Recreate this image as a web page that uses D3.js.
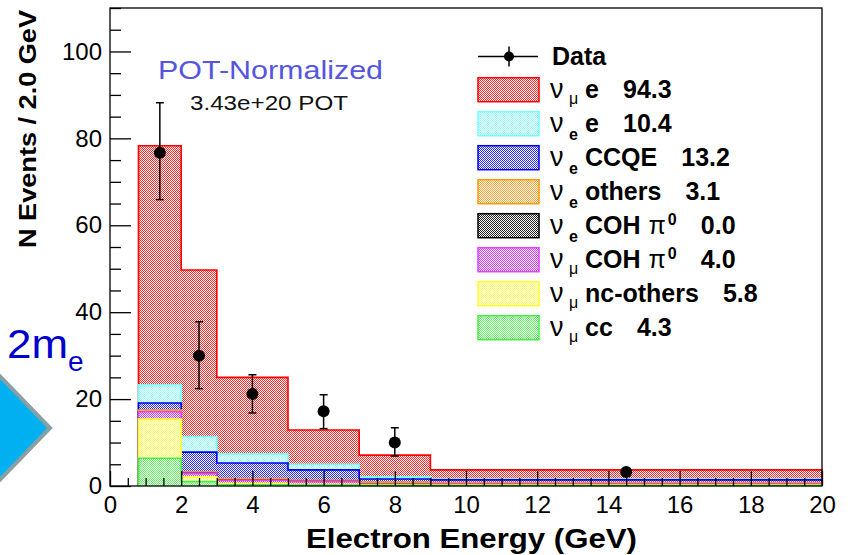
<!DOCTYPE html>
<html><head><meta charset="utf-8">
<script src="https://cdn.jsdelivr.net/npm/d3@7"></script>
<style>
body{margin:0;background:#fff}
svg{display:block}
text{font-family:"Liberation Sans",Arial,Helvetica,sans-serif}
</style>
</head><body>
<svg id="c" width="848" height="555"></svg>
<script>
// ---------------- DATA ----------------
const binEdges = [0.8, 2, 3, 5, 7, 9, 20];            // GeV
// per-bin heights (events / 2.0 GeV), stack order bottom -> top
const numuCC       = [6.4, 1.0, 0.3, 0.2, 0.1, 0.1];
const numuNCOthers = [9.0, 1.1, 0.3, 0.2, 0.1, 0.1];
const numuCOHpi0   = [1.7, 0.8, 0.7, 0.6, 0.2, 0.3];
const nueCOHpi0    = [0.0, 0.0, 0.0, 0.0, 0.0, 0.0];
const nueOthers    = [0.4, 0.3, 0.4, 0.3, 0.5, 0.35];
const nueCCQE      = [1.6, 4.6, 3.6, 2.4, 0.7, 0.55];
const nueE         = [4.2, 3.6, 2.1, 1.3, 0.5, 0.2];
const numuE        = [55.0, 38.3, 17.6, 7.9, 5.0, 2.1];

const dataX    = [1.4, 2.5, 4.0, 6.0, 8.0, 14.5];
const dataY    = [76.7, 30.0, 21.2, 17.2, 10.0, 3.2];
const dataLow  = [65.9, 22.4, 16.8, 13.2, 6.9, 2.3];
const dataHigh = [88.2, 37.8, 25.6, 21.0, 13.4, 4.1];

const xTicks = [0, 2, 4, 6, 8, 10, 12, 14, 16, 18, 20];
const yTicks = [0, 20, 40, 60, 80, 100];

// legend (top -> bottom)
const legendNu    = ["μ", "e", "e", "e", "e", "μ", "μ", "μ"];
const legendName  = ["e", "e", "CCQE", "others", "COH", "COH", "nc-others", "cc"];
const legendPi0   = [false, false, false, false, true, true, false, false];
const legendTotal = ["94.3", "10.4", "13.2", "3.1", "0.0", "4.0", "5.8", "4.3"];

// ---------------- STYLE ----------------
const keys   = ["numuCC","numuNCOthers","numuCOHpi0","nueCOHpi0","nueOthers","nueCCQE","nueE","numuE"];
const series = [numuCC, numuNCOthers, numuCOHpi0, nueCOHpi0, nueOthers, nueCCQE, nueE, numuE];
const dotCol = ["#5cf55c","#ffff55","#d535f5","#202020","#ffa030","#2a2af5","#90ffff","#f52a2a"];
const lineCol= ["#44ee44","#ffff30","#e040ff","#000000","#ff9900","#0000ee","#70ffff","#ff0000"];

const svg = d3.select("#c");
const x = d3.scaleLinear().domain([0, 20]).range([110, 822]);
const y = d3.scaleLinear().domain([0, 110]).range([486, 8]);

// patterns (ROOT 3001-like dotted fill)
const defs = svg.append("defs");
keys.forEach((k, i) => {
  const p = defs.append("pattern").attr("id", "pat" + i)
    .attr("patternUnits", "userSpaceOnUse").attr("width", 2).attr("height", 2);
  p.append("rect").attr("width", 2).attr("height", 2).attr("fill", "#fff");
  p.append("rect").attr("x", 0).attr("y", 0).attr("width", 1).attr("height", 1).attr("fill", dotCol[i]);
  p.append("rect").attr("x", 1).attr("y", 1).attr("width", 1).attr("height", 1).attr("fill", dotCol[i]);
});

// ---------------- left decorations ----------------
svg.append("polygon")
  .attr("points", [[-12, 364], [50, 428], [-12, 492]].map(p => p.join(",")).join(" "))
  .attr("fill", "#00b0f0").attr("stroke", "#86a0a6").attr("stroke-width", 4);
const me = svg.append("text").attr("x", 7).attr("y", 358).attr("fill", "#0000cc").style("font-size", "41px");
me.append("tspan").text("2m").attr("textLength", 61).attr("lengthAdjust", "spacingAndGlyphs");
me.append("tspan").attr("x", 68).attr("y", 371).style("font-size", "28px").text("e");

// ---------------- stacked histogram ----------------
const table = binEdges.slice(0, -1).map((e, i) => {
  const row = {bin: i};
  keys.forEach((k, j) => row[k] = series[j][i]);
  return row;
});
const stacked = d3.stack().keys(keys)(table);

function stepPts(tops) {
  const pts = [];
  tops.forEach((t, i) => { pts.push([binEdges[i], t]); pts.push([binEdges[i + 1], t]); });
  return pts;
}
const area = d3.area().x(d => x(d[0])).y0(y(0)).y1(d => y(d[1]));
const line = d3.line().x(d => x(d[0])).y(d => y(d[1]));

const hg = svg.append("g");
for (let j = keys.length - 1; j >= 0; j--) {
  const tops = stacked[j].map(d => d[1]);
  const pts = stepPts(tops);
  hg.append("path").attr("d", area(pts)).attr("fill", `url(#pat${j})`);
  const outline = [[binEdges[0], 0], ...pts, [binEdges[binEdges.length - 1], 0]];
  hg.append("path").attr("d", line(outline)).attr("fill", "none")
    .attr("stroke", lineCol[j]).attr("stroke-width", 1.6);
}

// ---------------- frame & axes ----------------
svg.append("rect").attr("x", x(0)).attr("y", y(110)).attr("width", x(20) - x(0)).attr("height", y(0) - y(110))
  .attr("fill", "none").attr("stroke", "#000").attr("stroke-width", 1.3);

const minorX = d3.range(0, 20.001, 0.5).filter(v => Math.abs(v % 2) > 1e-6);
const minorY = d3.range(0, 110.001, 5).filter(v => v % 20 !== 0);

const gx = svg.append("g").attr("transform", `translate(0,${y(0)})`);
gx.call(d3.axisBottom(x).tickValues(xTicks).tickSize(-15).tickPadding(10).tickFormat(d3.format("d")));
gx.append("g").call(d3.axisBottom(x).tickValues(minorX).tickSize(-8).tickFormat(""));
gx.selectAll(".domain").remove();
gx.selectAll("line").attr("stroke", "#000").attr("stroke-width", 1.3);
gx.selectAll("text").attr("fill", "#000").style("font-size", "24px").style("font-family", "Liberation Sans, Arial, sans-serif");

const gy = svg.append("g").attr("transform", `translate(${x(0)},0)`);
gy.call(d3.axisLeft(y).tickValues(yTicks).tickSize(-21).tickPadding(8).tickFormat(d3.format("d")));
gy.append("g").call(d3.axisLeft(y).tickValues(minorY).tickSize(-11).tickFormat(""));
gy.selectAll(".domain").remove();
gy.selectAll("line").attr("stroke", "#000").attr("stroke-width", 1.3);
gy.selectAll("text").attr("fill", "#000").style("font-size", "24px").style("font-family", "Liberation Sans, Arial, sans-serif");

// ---------------- data points ----------------
const R = 6;
const dg = svg.append("g");
dataX.forEach((dx, i) => {
  const cx = x(dx), cy = y(dataY[i]), yl = y(dataLow[i]), yh = y(dataHigh[i]);
  dg.append("line").attr("x1", cx).attr("x2", cx).attr("y1", yh).attr("y2", yl)
    .attr("stroke", "#000").attr("stroke-width", 1.5);
  if (cy - yh > R + 1) dg.append("line").attr("x1", cx - 4).attr("x2", cx + 4).attr("y1", yh).attr("y2", yh).attr("stroke", "#000").attr("stroke-width", 1.5);
  if (yl - cy > R + 1) dg.append("line").attr("x1", cx - 4).attr("x2", cx + 4).attr("y1", yl).attr("y2", yl).attr("stroke", "#000").attr("stroke-width", 1.5);
  dg.append("circle").attr("cx", cx).attr("cy", cy).attr("r", R).attr("fill", "#000");
});

// ---------------- titles ----------------
svg.append("text").attr("x", 306).attr("y", 548).style("font-size", "28px").style("font-weight", "bold")
  .attr("textLength", 331).attr("lengthAdjust", "spacingAndGlyphs").text("Electron Energy (GeV)");
svg.append("text").attr("transform", "translate(36,129) rotate(-90)").attr("text-anchor", "middle")
  .style("font-size", "23px").style("font-weight", "bold")
  .attr("textLength", 238).attr("lengthAdjust", "spacingAndGlyphs").text("N Events / 2.0 GeV");

svg.append("text").attr("x", 158).attr("y", 79).attr("fill", "#5555e0").style("font-size", "26px")
  .attr("textLength", 225).attr("lengthAdjust", "spacingAndGlyphs").text("POT-Normalized");
svg.append("text").attr("x", 190).attr("y", 110).attr("fill", "#111").style("font-size", "21px")
  .attr("textLength", 158).attr("lengthAdjust", "spacingAndGlyphs").text("3.43e+20 POT");

// ---------------- legend ----------------
const lg = svg.append("g");
const lx = 478, bw = 61, bh = 24;
const dataRowY = 56.5;
lg.append("line").attr("x1", lx).attr("x2", lx + bw - 1).attr("y1", dataRowY).attr("y2", dataRowY).attr("stroke", "#000").attr("stroke-width", 1.5);
lg.append("line").attr("x1", lx + 31).attr("x2", lx + 31).attr("y1", dataRowY - 10).attr("y2", dataRowY + 10).attr("stroke", "#000").attr("stroke-width", 1.5);
lg.append("circle").attr("cx", lx + 31).attr("cy", dataRowY).attr("r", 5).attr("fill", "#000");
lg.append("text").attr("x", 552).attr("y", dataRowY + 8.5).style("font-size", "25px").style("font-weight", "bold").text("Data");

legendName.forEach((nm, r) => {
  const j = keys.length - 1 - r;     // series index
  const cy = 89.7 + 34 * r;
  lg.append("rect").attr("x", lx).attr("y", cy - bh / 2).attr("width", bw).attr("height", bh)
    .attr("fill", `url(#pat${j})`).attr("stroke", lineCol[j]).attr("stroke-width", 1.5);
  const base = cy + 8.5;
  const t = lg.append("text").attr("y", base).style("font-size", "25px");
  t.append("tspan").attr("x", 550).style("font-size", "27px").text("ν");
  const sub = t.append("tspan").attr("x", 569).attr("dy", legendNu[r] === "μ" ? 6 : 8)
    .style("font-size", "16px").text(legendNu[r]);
  if (legendNu[r] === "e") sub.style("font-weight", "bold");
  t.append("tspan").attr("x", 585).attr("y", base).style("font-weight", "bold").text(nm);
  if (legendPi0[r]) {
    t.append("tspan").attr("dx", 8).text("π");
    t.append("tspan").attr("dx", 2).attr("dy", -9).style("font-size", "16px").style("font-weight", "bold").text("0");
  }
  const end = t.node().getBBox();
  t.append("tspan").attr("x", end.x + end.width + 24).attr("y", base).style("font-weight", "bold").text(legendTotal[r]);
});
</script>
</body></html>
